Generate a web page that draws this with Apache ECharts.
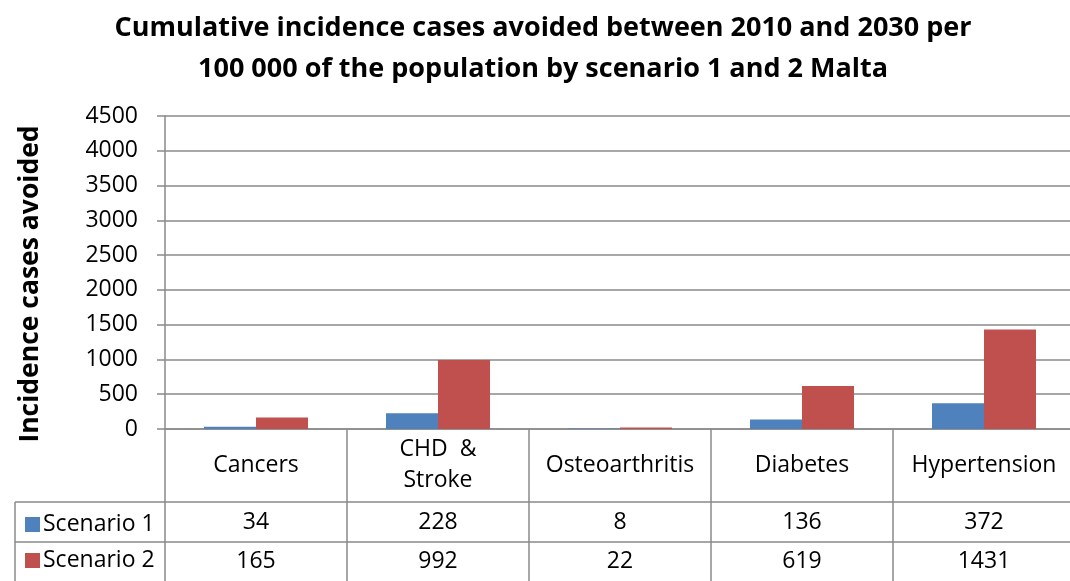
<!DOCTYPE html>
<html>
<head>
<meta charset="utf-8">
<script src="https://cdn.jsdelivr.net/npm/echarts@6/dist/echarts.min.js"></script>
<style>
  html, body { margin: 0; padding: 0; background: #fff; }
  #chart { width: 1070px; height: 581px; }
</style>
</head>
<body>
<div id="chart"></div>
<script>
// 数据
const categories = ["Cancers", "CHD  &\nStroke", "Osteoarthritis", "Diabetes", "Hypertension"];
const seriesNames = ["Scenario 1", "Scenario 2"];
const scenario1 = [34, 228, 8, 136, 372];
const scenario2 = [165, 992, 22, 619, 1431];
const yTicks = { min: 0, max: 4500, interval: 500 };

const FONT = "Open Sans";
const FS = 23;
const gridColor = "#8a8a8a";
const colors = ["#4F81BD", "#C0504D"];

const chart = echarts.init(document.getElementById("chart"));

// 数据表的行（x轴标签形式）
const tableAxis = (values, margin) => ({
  type: "category",
  gridIndex: 0,
  position: "bottom",
  data: values.map(v => String(v)),
  axisLine: { show: false },
  axisTick: { show: false },
  splitLine: { show: false },
  axisLabel: {
    margin: margin,
    verticalAlign: "middle",
    color: "#000",
    fontFamily: FONT,
    fontSize: FS,
    interval: 0
  }
});

const option = {
  animation: false,
  color: colors,
  title: {
    text: "Cumulative incidence cases avoided between 2010 and 2030 per\n100 000 of the population by scenario 1 and 2 Malta",
    left: 538,
    textAlign: "center",
    top: 3,
    textStyle: {
      fontFamily: FONT,
      fontWeight: "bold",
      fontSize: 27,
      lineHeight: 41,
      color: "#000"
    }
  },
  legend: {
    orient: "vertical",
    left: 20,
    top: 508,
    itemWidth: 15,
    itemHeight: 15,
    itemGap: 13,
    icon: "rect",
    data: seriesNames,
    textStyle: { fontFamily: FONT, fontSize: FS, color: "#000", padding: [0, 0, 0, -2] }
  },
  grid: { left: 165, width: 910, top: 116, bottom: 152, outerBoundsMode: "none" },
  xAxis: [
    {
      type: "category",
      data: categories,
      position: "bottom",
      axisLine: { lineStyle: { color: gridColor, width: 1.5 } },
      axisTick: { show: true, length: 152, lineStyle: { color: gridColor, width: 1.5 } },
      axisLabel: {
        margin: 36,
        verticalAlign: "middle",
        color: "#000",
        fontFamily: FONT,
        fontSize: FS,
        lineHeight: 31,
        interval: 0
      }
    },
    tableAxis(scenario1, 93),
    tableAxis(scenario2, 132)
  ],
  yAxis: {
    type: "value",
    min: yTicks.min,
    max: yTicks.max,
    interval: yTicks.interval,
    axisLine: { show: true, lineStyle: { color: gridColor, width: 1.5 } },
    axisTick: { show: true, length: 8, lineStyle: { color: gridColor, width: 1.5 } },
    splitLine: { lineStyle: { color: gridColor, width: 1.5 } },
    axisLabel: { color: "#000", fontFamily: FONT, fontSize: FS, margin: 27, formatter: v => String(v) }
  },
  series: [
    { name: seriesNames[0], type: "bar", data: scenario1, barWidth: 52, barGap: "0%", xAxisIndex: 0 },
    { name: seriesNames[1], type: "bar", data: scenario2, barWidth: 52, barGap: "0%", xAxisIndex: 0 }
  ],
  graphic: [
    {
      type: "text",
      x: 30,
      y: 284,
      rotation: Math.PI / 2,
      style: {
        text: "Incidence cases avoided",
        fontFamily: FONT,
        fontWeight: "bold",
        fontSize: 26.5,
        fill: "#000",
        align: "center",
        verticalAlign: "middle"
      }
    },
    // 数据表边框
    { type: "line", shape: { x1: 15, y1: 502, x2: 1070, y2: 502 }, style: { stroke: gridColor, lineWidth: 1.5 } },
    { type: "line", shape: { x1: 15, y1: 542, x2: 1070, y2: 542 }, style: { stroke: gridColor, lineWidth: 1.5 } },
    { type: "line", shape: { x1: 15, y1: 502, x2: 15, y2: 581 }, style: { stroke: gridColor, lineWidth: 1.5 } }
  ]
};

chart.setOption(option);
</script>
</body>
</html>
